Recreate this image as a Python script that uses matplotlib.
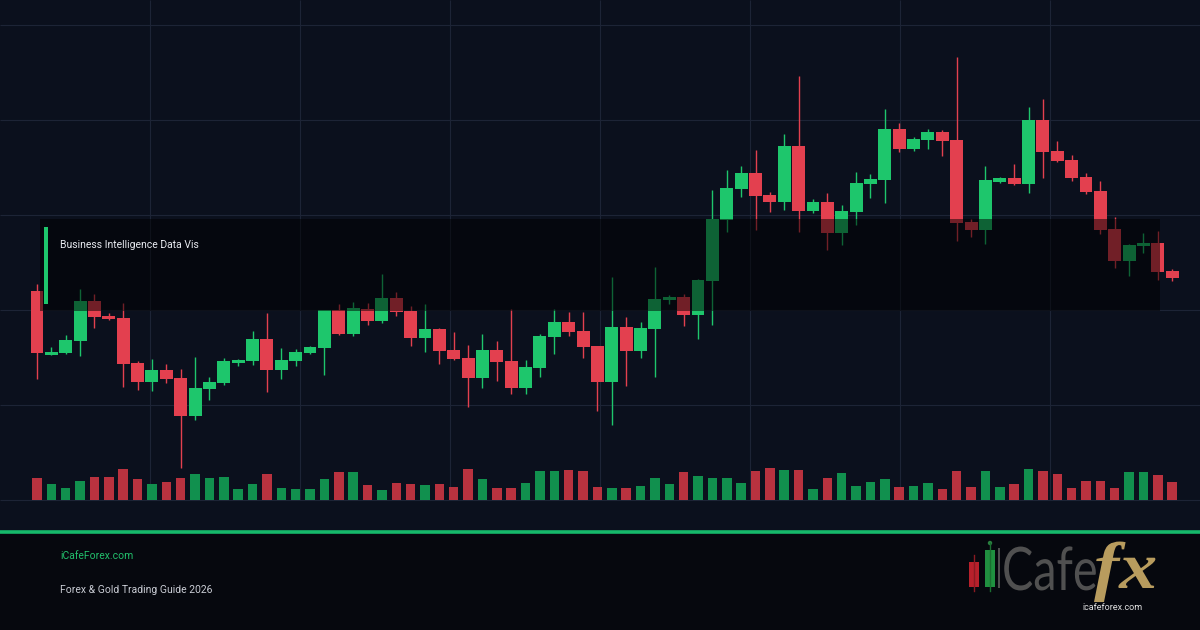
import numpy as np
import matplotlib
matplotlib.use("Agg")
import matplotlib.pyplot as plt
from matplotlib.patches import Rectangle, PathPatch, Circle
from matplotlib.textpath import TextPath
from matplotlib.font_manager import FontProperties
from matplotlib.transforms import Affine2D

# OHLC values (80 sessions)
opens = [2322.8, 2310.1, 2310.5, 2312.9, 2320.8, 2317.8, 2317.4, 2308.4, 2304.7, 2307.0,
         2305.4, 2297.9, 2303.3, 2304.5, 2308.5, 2308.9, 2313.2, 2307.1, 2308.9, 2310.4,
         2311.5, 2318.9, 2314.2, 2319.3, 2316.8, 2321.4, 2318.8, 2313.5, 2315.2, 2311.0,
         2309.4, 2305.5, 2311.0, 2308.8, 2303.5, 2307.5, 2313.7, 2316.6, 2314.8, 2311.8,
         2304.7, 2315.6, 2310.9, 2315.2, 2321.1, 2321.6, 2318.1, 2324.9, 2337.1, 2343.3,
         2346.4, 2342.0, 2340.6, 2351.8, 2338.9, 2340.6, 2334.4, 2338.6, 2344.3, 2345.1,
         2355.2, 2351.2, 2353.0, 2354.6, 2353.0, 2336.7, 2335.1, 2344.7, 2345.3, 2344.3,
         2357.0, 2350.8, 2349.0, 2345.6, 2342.8, 2335.2, 2328.9, 2331.9, 2332.4, 2326.9]
highs = [2324.3, 2311.6, 2314.0, 2323.2, 2322.2, 2318.5, 2320.4, 2308.9, 2309.2, 2308.2,
         2307.3, 2309.6, 2305.6, 2309.4, 2309.3, 2314.8, 2318.5, 2311.4, 2311.3, 2311.9,
         2319.1, 2320.2, 2320.6, 2320.4, 2326.2, 2322.6, 2319.9, 2320.2, 2315.4, 2314.6,
         2312.0, 2314.2, 2312.8, 2319.3, 2309.0, 2314.2, 2319.3, 2318.6, 2318.6, 2311.8,
         2325.6, 2317.6, 2316.6, 2327.6, 2322.1, 2322.2, 2325.3, 2343.0, 2347.0, 2347.8,
         2351.0, 2342.6, 2354.2, 2365.8, 2341.2, 2342.4, 2340.0, 2346.6, 2346.2, 2359.2,
         2356.5, 2353.6, 2355.2, 2355.0, 2369.6, 2337.3, 2347.8, 2345.6, 2348.2, 2359.6,
         2361.2, 2352.9, 2350.0, 2346.4, 2344.8, 2337.7, 2332.2, 2334.4, 2334.8, 2327.3]
lows = [2305.3, 2310.0, 2310.3, 2309.9, 2315.5, 2317.1, 2303.7, 2303.1, 2302.9, 2304.5,
        2287.5, 2297.1, 2301.1, 2304.1, 2307.9, 2308.1, 2302.7, 2305.3, 2307.8, 2310.2,
        2306.1, 2314.0, 2313.9, 2316.1, 2316.5, 2317.9, 2311.9, 2310.6, 2308.3, 2309.0,
        2299.7, 2303.5, 2304.9, 2302.3, 2302.3, 2305.6, 2310.2, 2313.9, 2309.5, 2298.9,
        2296.1, 2303.9, 2309.5, 2305.7, 2320.3, 2315.9, 2313.3, 2316.1, 2334.7, 2341.7,
        2335.0, 2338.6, 2339.0, 2334.7, 2338.5, 2331.0, 2332.0, 2336.1, 2341.5, 2340.5,
        2350.7, 2350.9, 2351.2, 2349.8, 2332.9, 2333.7, 2332.3, 2344.5, 2344.1, 2342.5,
        2345.5, 2348.7, 2344.9, 2342.3, 2334.3, 2327.5, 2325.9, 2330.5, 2325.1, 2324.9]
closes = [2310.5, 2310.7, 2313.0, 2320.8, 2317.7, 2317.3, 2308.3, 2304.7, 2307.0, 2305.3,
          2297.9, 2303.4, 2304.6, 2308.8, 2309.1, 2313.2, 2307.1, 2309.0, 2310.6, 2311.6,
          2318.9, 2314.2, 2319.3, 2316.8, 2321.4, 2318.6, 2313.5, 2315.2, 2310.9, 2309.2,
          2305.5, 2311.0, 2308.6, 2303.5, 2307.6, 2313.8, 2316.6, 2314.6, 2311.6, 2304.7,
          2315.6, 2310.9, 2315.4, 2321.2, 2321.6, 2318.1, 2325.0, 2337.2, 2343.4, 2346.4,
          2341.9, 2340.6, 2351.8, 2338.9, 2340.6, 2334.4, 2338.8, 2344.4, 2345.2, 2355.2,
          2351.2, 2353.2, 2354.6, 2352.8, 2336.5, 2335.1, 2345.0, 2345.3, 2344.2, 2357.0,
          2350.7, 2348.9, 2345.5, 2342.7, 2335.1, 2328.9, 2332.0, 2332.4, 2326.7, 2325.4]
volumes = [2200, 1600, 1200, 1900, 2300, 2300, 3100, 2100, 1600, 1800,
           2200, 2600, 2200, 2300, 1100, 1600, 2600, 1200, 1100, 1100,
           2100, 2800, 2800, 1500, 1000, 1700, 1600, 1500, 1600, 1300,
           3100, 2100, 1200, 1200, 1700, 2900, 2900, 3000, 2900, 1300,
           1200, 1200, 1400, 2200, 1600, 2800, 2400, 2200, 2200, 1700,
           2900, 3200, 3000, 3000, 1100, 2200, 2700, 1400, 1800, 2100,
           1300, 1400, 1700, 1100, 2900, 1300, 2900, 1300, 1600, 3100,
           2900, 2600, 1200, 1900, 1900, 1200, 2800, 2800, 2500, 1800]

title = "Business Intelligence Data Vis"
site_label = "iCafeForex.com"
guide_label = "Forex & Gold Trading Guide 2026"
logo_url = "icafeforex.com"

BG = '#0b101d'
FOOT = '#06080e'
GRID = '#1d2436'
UP = '#1ec66c'
DOWN = '#e3404f'
VUP = '#11904e'
VDOWN = '#b9323f'
ACCENT = '#16b86a'

opens = np.array(opens)
closes = np.array(closes)
highs = np.array(highs)
lows = np.array(lows)
volumes = np.array(volumes)
idx = np.arange(len(opens))
up = closes >= opens

fig = plt.figure(figsize=(12, 6.3), dpi=100)
fig.patch.set_facecolor(FOOT)

# background + grid (pixel space)
bg = fig.add_axes([0, 0, 1, 1], zorder=0)
bg.set_xlim(0, 1200)
bg.set_ylim(630, 0)
bg.axis('off')
bg.add_patch(Rectangle((0, 0), 1200, 531, color=BG, lw=0))
bg.hlines(np.arange(25, 501, 95), 0, 1200, color=GRID, lw=0.8)
bg.vlines(np.arange(150, 1051, 150), 0, 500, color=GRID, lw=0.8)

step, x0 = 14.37, 37
xlim = (-x0 / step, (1200 - x0) / step)

# volume
vax = fig.add_axes([0, 0, 1, 1], zorder=1)
vax.set_xlim(*xlim)
vax.set_ylim(-13000, 50000)
vax.axis('off')
vax.bar(idx, volumes, width=0.66, color=np.where(up, VUP, VDOWN), lw=0)

# candles
ax = fig.add_axes([0, 0, 1, 1], zorder=2)
ax.patch.set_alpha(0)
ax.set_xlim(*xlim)
ax.set_ylim(2255, 2381)
ax.axis('off')
colors = np.where(up, UP, DOWN)
ax.vlines(idx, lows, highs, colors=colors, lw=1.0)
body_lo = np.minimum(opens, closes)
body_h = np.maximum(np.abs(closes - opens), 0.4)
ax.bar(idx, body_h, bottom=body_lo, width=0.9, color=colors, lw=0)

# overlay, title and footer (pixel space)
top = fig.add_axes([0, 0, 1, 1], zorder=3)
top.patch.set_alpha(0)
top.set_xlim(0, 1200)
top.set_ylim(630, 0)
top.axis('off')
top.add_patch(Rectangle((40, 219), 1120, 92, color='black', alpha=0.5, lw=0))
top.add_patch(Rectangle((44, 227), 3.5, 77, color=UP, lw=0))
top.text(60, 245, title, color='#e8eaf0', fontsize=7.5, family='Roboto', va='center')

top.plot([0, 1200], [532, 532], color=ACCENT, lw=2.6, solid_capstyle='butt')
top.text(60, 556, site_label, color='#22c06c', fontsize=7.5, family='Roboto', va='center')
top.text(60, 590, guide_label, color='#c9ccd4', fontsize=7.5, family='Roboto', va='center')

# logo
top.plot([974, 974], [555, 591], color='#8a1a22', lw=1)
top.add_patch(Rectangle((969, 562), 10, 25, color='#b8202b', lw=0))
top.plot([990, 990], [543, 591], color='#1a6e30', lw=1)
top.add_patch(Circle((990, 543), 2.2, color='#2a8040', lw=0))
top.add_patch(Rectangle((985, 550), 10, 37, color='#209040', lw=0))
top.add_patch(Rectangle((997.5, 548), 2.5, 40, color='#4f4f4f', lw=0))

cafe = TextPath((0, 0), "Cafe", size=60, prop=FontProperties(family='Lato', weight='normal'))
t = Affine2D().scale(0.78, -1.0).translate(1002, 590)
top.add_patch(PathPatch(t.transform_path(cafe), color='#505050', lw=0))

fx = TextPath((0, 0), "fx", size=66, prop=FontProperties(family='Liberation Serif', weight='bold', style='italic'))
t2 = Affine2D().scale(1.15, -1.0).translate(1094, 588)
top.add_patch(PathPatch(t2.transform_path(fx), color='#b89c5e', lw=0))

top.text(1112, 608, logo_url, color='#e2e2e2', fontsize=6.5, family='Roboto', ha='center', va='center')

fig.savefig('out.png', dpi=100, facecolor=fig.get_facecolor())
